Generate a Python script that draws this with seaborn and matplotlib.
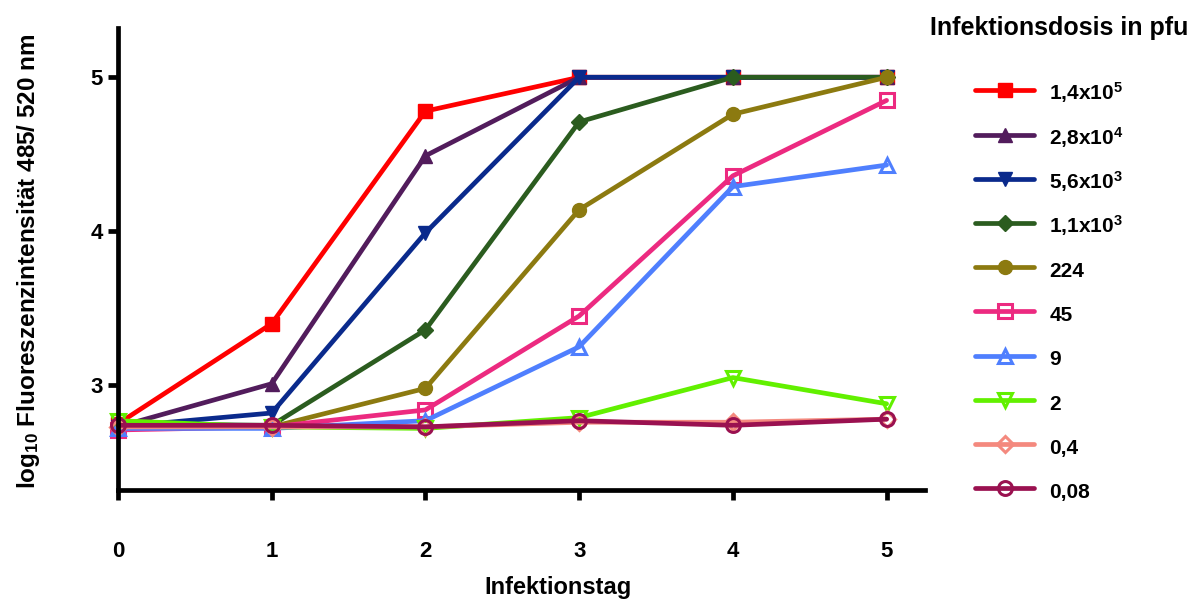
import matplotlib
matplotlib.use("Agg")
import matplotlib.pyplot as plt
import seaborn as sns
import pandas as pd

# Infection day
days = [0, 1, 2, 3, 4, 5]

# Infection dose labels (pfu)
doses = [
    r"1,4x10$^{5}$", r"2,8x10$^{4}$", r"5,6x10$^{3}$", r"1,1x10$^{3}$",
    "224", "45", "9", "2", "0,4", "0,08",
]

# log10 fluorescence intensity per dose, days 0..5
v_140000 = [2.75, 3.40, 4.78, 5.00, 5.00, 5.00]
v_28000 = [2.73, 3.01, 4.49, 5.00, 5.00, 5.00]
v_5600 = [2.73, 2.82, 3.99, 5.00, 5.00, 5.00]
v_1100 = [2.75, 2.74, 3.36, 4.71, 5.00, 5.00]
v_224 = [2.73, 2.73, 2.98, 4.14, 4.76, 5.00]
v_45 = [2.71, 2.73, 2.84, 3.45, 4.36, 4.85]
v_9 = [2.72, 2.72, 2.77, 3.25, 4.29, 4.43]
v_2 = [2.77, 2.73, 2.72, 2.79, 3.05, 2.88]
v_04 = [2.73, 2.73, 2.73, 2.76, 2.76, 2.78]
v_008 = [2.74, 2.74, 2.73, 2.77, 2.74, 2.78]

series = [v_140000, v_28000, v_5600, v_1100, v_224, v_45, v_9, v_2, v_04, v_008]

colors = ["#ff0000", "#521c5c", "#0a2a8c", "#2b5c1f", "#8c7a10",
          "#ec2a80", "#4f7ffe", "#62f000", "#f4897e", "#9a1150"]
markers = ["s", "^", "v", "D", "o", "s", "^", "v", "D", "o"]
filled = [True, True, True, True, True, False, False, False, False, False]
msizes = [10, 10, 10, 8, 10, 10, 10, 10, 8, 10]

sns.set_style("ticks")
plt.rcParams["font.family"] = ["Liberation Sans", "DejaVu Sans"]
plt.rcParams["font.weight"] = "bold"
plt.rcParams["text.color"] = "black"
plt.rcParams["axes.labelcolor"] = "black"
plt.rcParams["axes.edgecolor"] = "black"
plt.rcParams["xtick.color"] = "black"
plt.rcParams["ytick.color"] = "black"
plt.rcParams["mathtext.fontset"] = "custom"
plt.rcParams["mathtext.rm"] = "Liberation Sans:bold"
plt.rcParams["mathtext.it"] = "Liberation Sans:bold"
plt.rcParams["mathtext.bf"] = "Liberation Sans:bold"

rows = []
for dose, vals in zip(doses, series):
    for d, v in zip(days, vals):
        rows.append({"Infektionstag": d, "Wert": v, "Dosis": dose})
df = pd.DataFrame(rows)

fig = plt.figure(figsize=(11.99, 6.01), dpi=100)
ax = fig.add_axes([118 / 1199, 1 - 490 / 601, (925 - 118) / 1199, (490 - 28) / 601])

for dose, c, m, f, ms in zip(doses, colors, markers, filled, msizes):
    sub = df[df["Dosis"] == dose]
    sns.lineplot(
        data=sub, x="Infektionstag", y="Wert", ax=ax, color=c, lw=3.4,
        marker=m, markersize=ms, markeredgewidth=2.2 if not f else 1,
        markerfacecolor=c if f else "none", markeredgecolor=c,
        label=dose, clip_on=False,
    )

ax.set_xlim(0, 5.25)
ax.set_ylim(2.32, 5.32)
ax.set_xticks(days)
ax.set_yticks([3, 4, 5])
sns.despine(ax=ax)
for sp in ("left", "bottom"):
    ax.spines[sp].set_linewidth(3.4)
ax.tick_params(axis="both", width=3.4, length=7, labelsize=16)
ax.tick_params(axis="x", pad=30)
ax.tick_params(axis="y", pad=4)
for lab in ax.get_xticklabels() + ax.get_yticklabels():
    lab.set_fontweight("bold")

ax.set_xlabel("Infektionstag", fontsize=17, fontweight="bold")
ax.xaxis.set_label_coords(0.545, -0.187)
ax.set_ylabel(r"log$_{10}$ Fluoreszenzintensität 485/ 520 nm", fontsize=17.5, fontweight="bold")
ax.yaxis.set_label_coords(-0.094, 0.495)

fig.text(930 / 1199, 1 - 28 / 601, "Infektionsdosis in pfu", fontsize=18,
         fontweight="bold", ha="left", va="center")

handles, labels = ax.get_legend_handles_labels()
leg = ax.legend(
    handles, labels, loc="upper left", bbox_to_anchor=(967 / 1199, 1 - 72 / 601),
    bbox_transform=fig.transFigure, frameon=False,
    handlelength=2.8, handleheight=1.5, handletextpad=0.75, labelspacing=0.9,
    borderaxespad=0, prop={"weight": "bold", "size": 15},
)

fig.savefig("out.png", dpi=100, facecolor="white")
